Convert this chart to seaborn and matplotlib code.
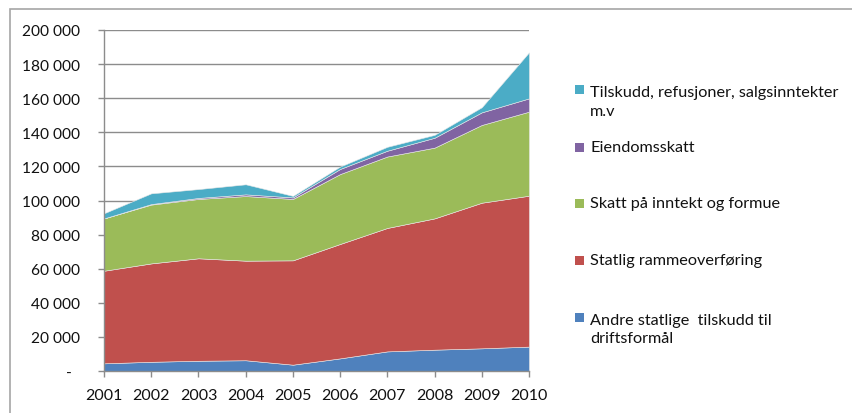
import numpy as np
import pandas as pd
import matplotlib
matplotlib.use('Agg')
import matplotlib.pyplot as plt
from matplotlib.patches import Rectangle
from matplotlib.ticker import FuncFormatter
import seaborn as sns

# Values (stacked, bottom to top)
years = [2001, 2002, 2003, 2004, 2005, 2006, 2007, 2008, 2009, 2010]
andre_tilskudd = [4500, 5400, 6000, 6300, 3700, 7400, 11500, 12500, 13300, 14300]
rammeoverforing = [54300, 57700, 60100, 58400, 61200, 67100, 72400, 77000, 85400, 88500]
skatt_inntekt = [30700, 34500, 34800, 37900, 36000, 41000, 41900, 41500, 45600, 49300]
eiendomsskatt = [0, 300, 600, 1000, 900, 3000, 3400, 5800, 7400, 7800]
tilskudd_refusjoner = [3000, 6300, 5200, 5900, 900, 1400, 2300, 1700, 3000, 27000]

labels = [
    'Andre statlige  tilskudd til\ndriftsformål',
    'Statlig rammeoverføring',
    'Skatt på inntekt og formue',
    'Eiendomsskatt',
    'Tilskudd, refusjoner, salgsinntekter\nm.v',
]
colors = ['#4F81BD', '#C0504D', '#9BBB59', '#8064A2', '#4BACC6']
y_ticks = [0, 20000, 40000, 60000, 80000, 100000, 120000, 140000, 160000, 180000, 200000]

df = pd.DataFrame({
    'year': years,
    labels[0]: andre_tilskudd,
    labels[1]: rammeoverforing,
    labels[2]: skatt_inntekt,
    labels[3]: eiendomsskatt,
    labels[4]: tilskudd_refusjoner,
})

sns.set_style('white')
plt.rcParams['font.family'] = ['Lato', 'DejaVu Sans']
text_color = '#111111'
grid_color = '#8c8c8c'

W, H = 852, 414
fig = plt.figure(figsize=(W / 100, H / 100), dpi=100)
ax = fig.add_axes([104 / W, 1 - 372 / H, (529 - 104) / W, (372 - 31) / H])

ax.stackplot(df['year'], [df[l] for l in labels], colors=colors,
             edgecolor='#e8e8e8', linewidth=0.4, zorder=3)

ax.set_xlim(2001, 2010)
ax.set_ylim(0, 200000)
ax.set_xticks(years)
ax.set_yticks(y_ticks)

def fmt(v, pos):
    if v == 0:
        return '-  '
    return f'{int(v):,}'.replace(',', ' ')

ax.yaxis.set_major_formatter(FuncFormatter(fmt))

ax.grid(axis='y', color=grid_color, linewidth=1.0)
ax.grid(axis='x', visible=False)
ax.set_axisbelow(True)

sns.despine(ax=ax, top=True, right=True)
for side in ['left', 'bottom']:
    ax.spines[side].set_color(grid_color)
    ax.spines[side].set_linewidth(1.0)
    ax.spines[side].set_zorder(4)

ax.tick_params(axis='y', direction='out', length=4.3, width=1.0, color=grid_color,
               pad=13, labelsize=11.2, labelcolor=text_color, left=True)
ax.tick_params(axis='x', direction='out', length=4.3, width=1.0, color=grid_color,
               pad=8, labelsize=11.5, labelcolor=text_color, bottom=True)

# Legend drawn by hand so the swatch lines up with the first text line
legend_rows = [
    (labels[4], colors[4], 90, 102.5),
    (labels[3], colors[3], 148, 148),
    (labels[2], colors[2], 204, 204),
    (labels[1], colors[1], 261, 261),
    (labels[0], colors[0], 318, 330),
]
sq = 9
for text, col, sq_y, txt_y in legend_rows:
    fig.patches.append(Rectangle((575 / W, 1 - (sq_y + sq / 2) / H), sq / W, sq / H,
                                 transform=fig.transFigure, facecolor=col,
                                 edgecolor='none'))
    fig.text(590 / W, 1 - txt_y / H, text, fontsize=11.7, color=text_color,
             ha='left', va='center', linespacing=1.38)

# Chart area border
fig.patches.append(Rectangle((10 / W, -0.05), 1.0, 1 - 10 / H + 0.05,
                             transform=fig.transFigure, facecolor='none',
                             edgecolor='#a6a6a6', linewidth=1.2))

fig.savefig('out.png', dpi=100)
